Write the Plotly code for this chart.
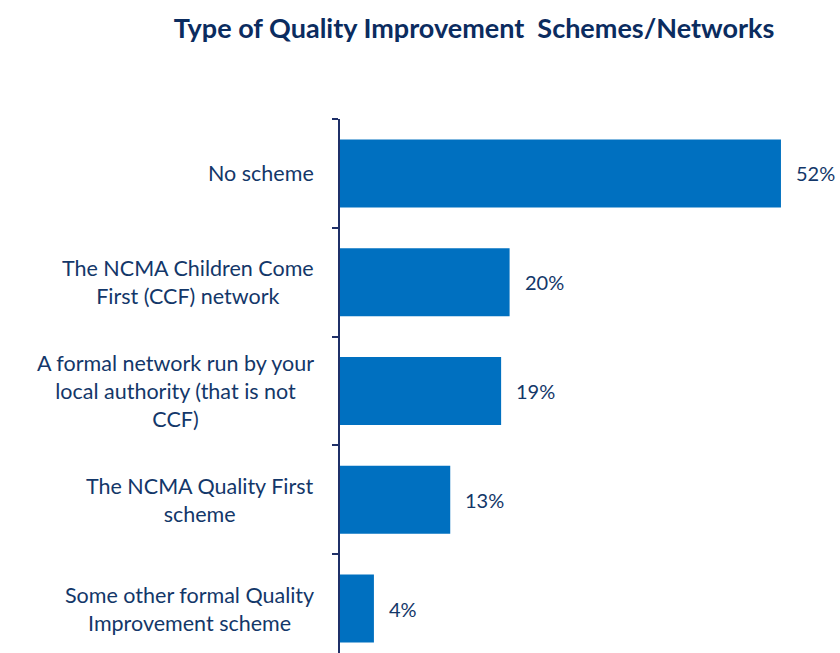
import plotly.graph_objects as go

categories = [
    "No scheme",
    "The NCMA Children Come<br>First (CCF) network",
    "A formal network run by your<br>local authority (that is not<br>CCF)",
    "The NCMA Quality First<br>scheme",
    "Some other formal Quality<br>Improvement scheme",
]
values = [52, 20, 19, 13, 4]
value_labels = ["52%", "20%", "19%", "13%", "4%"]

NAVY = "#133769"
BAR = "#0070C0"
FONT = "Lato, 'Open Sans', sans-serif"

W, H = 840, 653
ml, mt, mr, mb = 340, 119, 0, 0
plot_w = W - ml - mr
px_per_pct = 8.48
band = 108.8
plot_h = H - mt - mb
y_bottom = -0.5 + plot_h / band

fig = go.Figure(go.Bar(
    x=values, y=list(range(len(categories))), orientation="h",
    marker=dict(color=BAR, line=dict(width=0)),
    hoverinfo="skip",
))

for i, (v, lab) in enumerate(zip(values, value_labels)):
    fig.add_annotation(x=v, y=i, xref="x", yref="y", text=lab, showarrow=False,
                       xanchor="left", xshift=13, font=dict(size=20, color=NAVY, family=FONT))

for i, cat in enumerate(categories):
    fig.add_annotation(x=-24 / plot_w, y=i, xref="paper", yref="y", text=cat, showarrow=False,
                       xanchor="right", align="center", font=dict(size=21.5, color=NAVY, family=FONT))

fig.update_layout(
    width=W, height=H,
    margin=dict(l=ml, r=mr, t=mt, b=mb, pad=0),
    plot_bgcolor="white", paper_bgcolor="white",
    bargap=0.375,
    showlegend=False,
    title=dict(text="<b>Type of Quality Improvement  Schemes/Networks</b>",
               x=474 / W, xanchor="center", y=1 - 29 / H, yanchor="middle",
               font=dict(size=27, color="#0B2C5F", family=FONT)),
    xaxis=dict(range=[0, plot_w / px_per_pct], visible=False, fixedrange=True),
    yaxis=dict(range=[y_bottom, -0.5], showticklabels=False,
               tickmode="array", tickvals=[-0.5, 0.5, 1.5, 2.5, 3.5, 4.5],
               ticks="outside", ticklen=6, tickwidth=2, tickcolor="#1F3068",
               showline=True, linecolor="#1F3068", linewidth=2,
               showgrid=False, zeroline=False, fixedrange=True),
)

fig.write_html(
    "out.html",
    config={"displayModeBar": False},
    post_script="document.body.style.margin='0';document.body.style.overflow='hidden';",
)
